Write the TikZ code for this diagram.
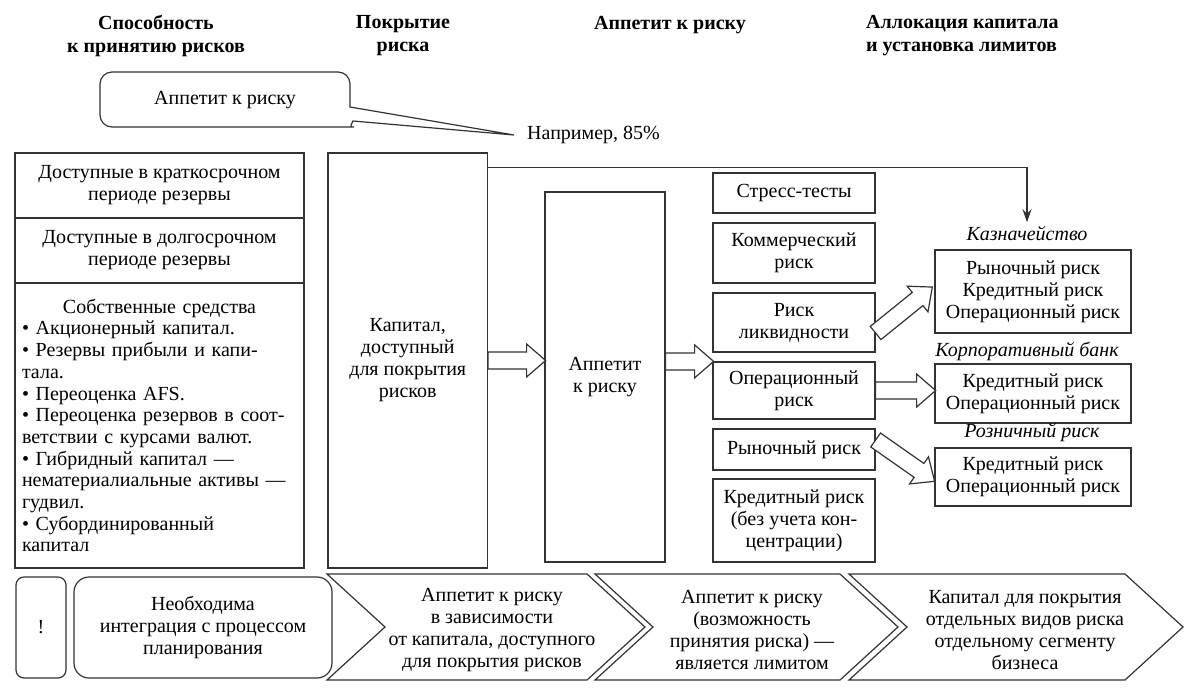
\documentclass[tikz,border=0pt]{standalone}
\usepackage{fontspec}
\setmainfont{Liberation Serif}
\usetikzlibrary{calc,arrows.meta}

\tikzset{
  line/.style={line width=1.2pt, draw=black!80},
  txt/.style={font=\fontsize{20}{22}\selectfont, align=center},
  box/.style={line, txt, inner sep=0pt},
  rbox/.style={box, minimum width=162pt},
  gbox/.style={box, minimum width=196pt},
  hdr/.style={font=\bfseries\fontsize{20}{23}\selectfont, align=center, inner sep=0pt},
  lbl/.style={font=\itshape\fontsize{20}{22}\selectfont},
  pics/harrow/.style={code={
    \draw[line, fill=white] (0,-8.5) -- (#1-19,-8.5) -- (#1-19,-16.5) -- (#1,0)
      -- (#1-19,16.5) -- (#1-19,8.5) -- (0,8.5) -- cycle;}},
}

\begin{document}
\begin{tikzpicture}[x=1pt, y=-1pt]
\useasboundingbox (0,0) rectangle (1193,691);

% headers
\node[hdr] (h1) at (156,36) {Способность\\к принятию рисков};
\node[hdr] (h2) at (403,36) {Покрытие\\риска};
\node[hdr] (h3) at (670,25) {Аппетит к риску};
\node[hdr, align=left, anchor=west] (h4) at (866,36) {Аллокация капитала\\и установка лимитов};

% callout
\node[txt] (ca) at (225,100) {Аппетит к риску};
\node[txt, anchor=west, inner sep=0pt] (nap) at (527,135) {Например, 85\%};
\coordinate (tip) at ($(nap.west)+(-13,0)$);
\draw[line] (tip) -- (350,107) [rounded corners=12pt] -- (350,72) -- (100,72) -- (100,127)
  -- (342,127) [sharp corners] .. controls (350,127) .. (353,121) -- cycle;

% left column
\node[box, minimum width=289pt, minimum height=65pt] (res1) at (159.5,185.5)
  {Доступные в краткосрочном\\периоде резервы};
\node[box, minimum width=289pt, minimum height=65pt] (res2) at (159.5,250.5)
  {Доступные в долгосрочном\\периоде резервы};
\node[box, font=\fontsize{20}{21.7}\selectfont, minimum width=289pt, minimum height=285pt,
  align=left, text width=275pt] (own) at (159.5,425.5)
  {\makebox[\linewidth][c]{Собственные средства}\\
   • Акционерный капитал.\\
   • Резервы прибыли и капи-\\
   тала.\\
   • Переоценка AFS.\\
   • Переоценка резервов в соот-\\
   ветствии с курсами валют.\\
   • Гибридный капитал —\\
   нематериалиальные активы —\\
   гудвил.\\
   • Субординированный\\
   капитал};

% capital and appetite
\node[box, minimum width=159.5pt, minimum height=415pt] (cap) at (407.75,360.5)
  {Капитал,\\доступный\\для покрытия\\рисков};
\node[box, minimum width=120pt, minimum height=370pt] (app) at (605,377) {Аппетит\\к риску};

% risk types
\node[rbox, minimum height=40pt] (stress) at (794,193) {Стресс-тесты};
\node[rbox, minimum height=60pt] (comm) at (794,253) {Коммерческий\\риск};
\node[rbox, minimum height=59pt] (likv) at (794,322.5) {Риск\\ликвидности};
\node[rbox, minimum height=57pt] (oper) at (794,390.5) {Операционный\\риск};
\node[rbox, minimum height=41pt] (rynok) at (794,449.5) {Рыночный риск};
\node[rbox, minimum height=83pt] (kred) at (794,520.5) {Кредитный риск\\(без учета кон-\\центрации)};

% business segments
\node[lbl] (kazn) at (1027,233) {Казначейство};
\node[gbox, minimum height=83pt] (treas) at (1033,291.5)
  {Рыночный риск\\Кредитный риск\\Операционный риск};
\node[lbl] (korp) at (1027,351) {Корпоративный банк};
\node[gbox, minimum height=59pt] (corp) at (1033,393.5) {Кредитный риск\\Операционный риск};
\node[lbl] (rozn) at (1032,433) {Розничный риск};
\node[gbox, minimum height=58pt] (retail) at (1033,477) {Кредитный риск\\Операционный риск};

% connectors
\draw[line, -{Stealth[length=13pt, width=9pt]}] ($(cap.north east)+(0,15)$) -| (kazn.north);
\pic at (cap.east) {harrow=57.5};
\pic at (app.east |- oper.north west) {harrow=48};
\pic at (oper.east) {harrow=60};
\pic[rotate=39] at ([yshift=-10.5pt]likv.east) {harrow=73};
\pic[rotate=-35] at ([yshift=9.5pt]rynok.east) {harrow=72};

% bottom row
\node[box, rounded corners=8pt, minimum width=50pt, minimum height=101pt] (excl) at (41,627.5) {!};
\node[box, rounded corners=15pt, minimum width=258pt, minimum height=101pt] (integ) at (203,627.5)
  {Необходима\\интеграция с процессом\\планирования};
\foreach \l/\r in {327/587, 595/840, 849/1125}
  \draw[line] (\l,574) -- (\r,574) -- (\r+58,627) -- (\r,680) -- (\l,680) -- (\l+58,627) -- cycle;
\node[txt] (ch1) at (492,630) {Аппетит к риску\\в зависимости\\от капитала, доступного\\для покрытия рисков};
\node[txt] (ch2) at (752,630) {Аппетит к риску\\(возможность\\принятия риска) —\\является лимитом};
\node[txt] (ch3) at (1025,630) {Капитал для покрытия\\отдельных видов риска\\отдельному сегменту\\бизнеса};
\end{tikzpicture}
\end{document}
